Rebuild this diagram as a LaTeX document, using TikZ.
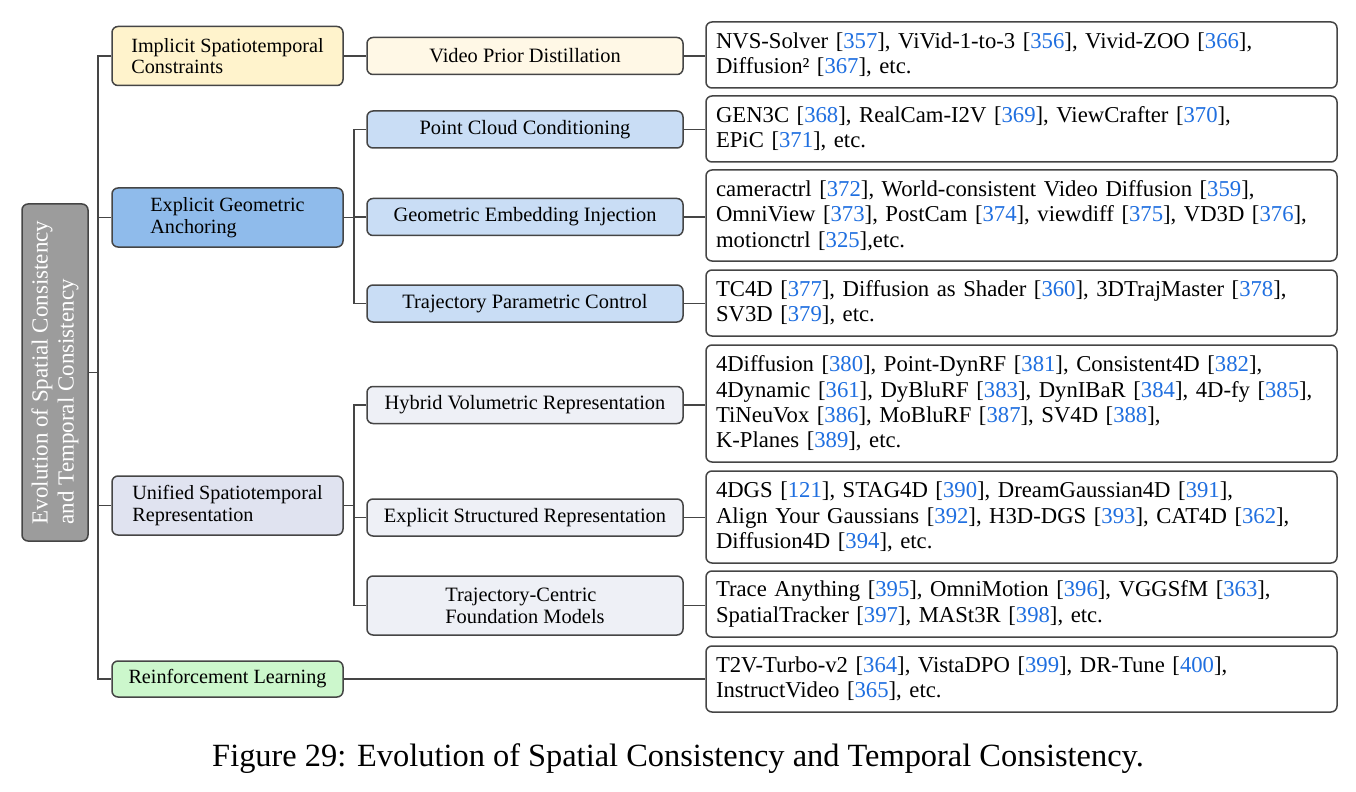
\documentclass[tikz,border=0pt]{standalone}
\usepackage{fontspec}
\setmainfont{Liberation Serif}
\usetikzlibrary{positioning}
\definecolor{citeblue}{HTML}{1F6FE0}
\definecolor{lineC}{HTML}{454545}
\definecolor{rootF}{HTML}{9C9C9C}
\definecolor{impF}{HTML}{FFF3CC}
\definecolor{impS}{HTML}{FFF8E6}
\definecolor{expF}{HTML}{8FBBEB}
\definecolor{expS}{HTML}{C9DDF5}
\definecolor{uniF}{HTML}{E0E3F0}
\definecolor{uniS}{HTML}{EEF0F6}
\definecolor{rlF}{HTML}{CCF7CC}
\newcommand\rf[1]{[\textcolor{citeblue}{#1}]}
\begin{document}
\begin{tikzpicture}[x=0.5pt,y=-0.5pt,
  box/.style={draw=lineC, line width=0.75pt, rounded corners=3pt, inner sep=0pt},
  rootbox/.style={box, fill=rootF, minimum width=33pt, minimum height=168.5pt},
  lone/.style={box, minimum width=115.5pt, minimum height=29.5pt, align=left, font=\fontsize{10.1}{10.8}\selectfont},
  ltwo/.style={box, minimum width=158pt, minimum height=18.5pt, align=left, font=\fontsize{10.2}{11}\selectfont},
  leaf/.style={box, fill=white, minimum width=315.5pt, text width=305.5pt, align=left, font=\fontsize{11.35}{12.65}\selectfont},
  conn/.style={draw=lineC, line width=0.65pt}
]
\useasboundingbox (0,0) rectangle (1356,792);

% root
\node[rootbox] (root) at (55,372.5) {};
\node[rotate=90, text=white, align=left, font=\fontsize{11.5}{13}\selectfont] (roottext) at (root.center) {Evolution of Spatial Consistency\\and Temporal Consistency};

% level 1
\node[lone, fill=impF] (imp) at (227.5,56) {Implicit Spatiotemporal\\Constraints};
\node[lone, fill=expF] (exp) at (227.5,217.5) {Explicit Geometric\\Anchoring};
\node[lone, fill=uniF] (uni) at (227.5,505.5) {Unified Spatiotemporal\\Representation};
\node[lone, fill=rlF, minimum height=18pt] (rl) at (227.5,679) {Reinforcement Learning};

% level 2
\node[ltwo, fill=impS] (vpd) at (525,56) {Video Prior Distillation};
\node[ltwo, fill=expS] (pcc) at (525,129.5) {Point Cloud Conditioning};
\node[ltwo, fill=expS] (gei) at (525,217) {Geometric Embedding Injection};
\node[ltwo, fill=expS] (tpc) at (525,303.5) {Trajectory Parametric Control};
\node[ltwo, fill=uniS] (hvr) at (525,405) {Hybrid Volumetric Representation};
\node[ltwo, fill=uniS] (esr) at (525,517.5) {Explicit Structured Representation};
\node[ltwo, fill=uniS, minimum height=29.5pt] (tcf) at (525,605.5) {Trajectory-Centric\\Foundation Models};

% leaves
\node[leaf, minimum height=33pt] (f1) at (1021.5,55) {NVS-Solver \rf{357}, ViVid-1-to-3 \rf{356}, Vivid-ZOO \rf{366},\\Diffusion² \rf{367}, etc.};
\node[leaf, minimum height=33pt] (f2) at (1021.5,129) {GEN3C \rf{368}, RealCam-I2V \rf{369}, ViewCrafter \rf{370},\\EPiC \rf{371}, etc.};
\node[leaf, minimum height=45.5pt] (f3) at (1021.5,215.5) {cameractrl \rf{372}, World-consistent Video Diffusion \rf{359},\\OmniView \rf{373}, PostCam \rf{374}, viewdiff \rf{375}, VD3D \rf{376},\\motionctrl \rf{325},etc.};
\node[leaf, minimum height=33pt] (f4) at (1021.5,303) {TC4D \rf{377}, Diffusion as Shader \rf{360}, 3DTrajMaster \rf{378},\\SV3D \rf{379}, etc.};
\node[leaf, minimum height=58.5pt] (f5) at (1021.5,403.5) {4Diffusion \rf{380}, Point-DynRF \rf{381}, Consistent4D \rf{382},\\4Dynamic \rf{361}, DyBluRF \rf{383}, DynIBaR \rf{384}, 4D-fy \rf{385},\\TiNeuVox \rf{386}, MoBluRF \rf{387}, SV4D \rf{388},\\K-Planes \rf{389}, etc.};
\node[leaf, minimum height=46pt] (f6) at (1021.5,517) {4DGS \rf{121}, STAG4D \rf{390}, DreamGaussian4D \rf{391},\\Align Your Gaussians \rf{392}, H3D-DGS \rf{393}, CAT4D \rf{362},\\Diffusion4D \rf{394}, etc.};
\node[leaf, minimum height=33pt] (f7) at (1021.5,604) {Trace Anything \rf{395}, OmniMotion \rf{396}, VGGSfM \rf{363},\\SpatialTracker \rf{397}, MASt3R \rf{398}, etc.};
\node[leaf, minimum height=33pt] (f8) at (1021.5,679) {T2V-Turbo-v2 \rf{364}, VistaDPO \rf{399}, DR-Tune \rf{400},\\InstructVideo \rf{365}, etc.};

% caption
\node[font=\fontsize{16.2}{18}\selectfont] (cap) at (678,759) {Figure 29: Evolution of Spatial Consistency and Temporal Consistency.};

% bus coordinates
\coordinate (trunk) at (98,0);
\coordinate (busA) at (354,0);
\coordinate (busB) at (354,0);

% connectors
\draw[conn] (root.east) -- (root.east -| trunk);
\draw[conn] (imp.west) -- (imp.west -| trunk) -- (rl.west -| trunk) -- (rl.west);
\draw[conn] (exp.west) -- (exp.west -| trunk);
\draw[conn] (uni.west) -- (uni.west -| trunk);

\draw[conn] (imp.east) -- (vpd.west);
\draw[conn] (exp.east) -- (exp.east -| busA);
\draw[conn] (pcc.west) -- (pcc.west -| busA) -- (tpc.west -| busA) -- (tpc.west);
\draw[conn] (gei.west) -- (gei.west -| busA);
\draw[conn] (uni.east) -- (uni.east -| busB);
\draw[conn] (hvr.west) -- (hvr.west -| busB) -- (tcf.west -| busB) -- (tcf.west);
\draw[conn] (esr.west) -- (esr.west -| busB);

\draw[conn] (vpd.east) -- (f1.west |- vpd.east);
\draw[conn] (pcc.east) -- (f2.west |- pcc.east);
\draw[conn] (gei.east) -- (f3.west |- gei.east);
\draw[conn] (tpc.east) -- (f4.west |- tpc.east);
\draw[conn] (hvr.east) -- (f5.west |- hvr.east);
\draw[conn] (esr.east) -- (f6.west |- esr.east);
\draw[conn] (tcf.east) -- (f7.west |- tcf.east);
\draw[conn] (rl.east) -- (f8.west |- rl.east);
\end{tikzpicture}
\end{document}
